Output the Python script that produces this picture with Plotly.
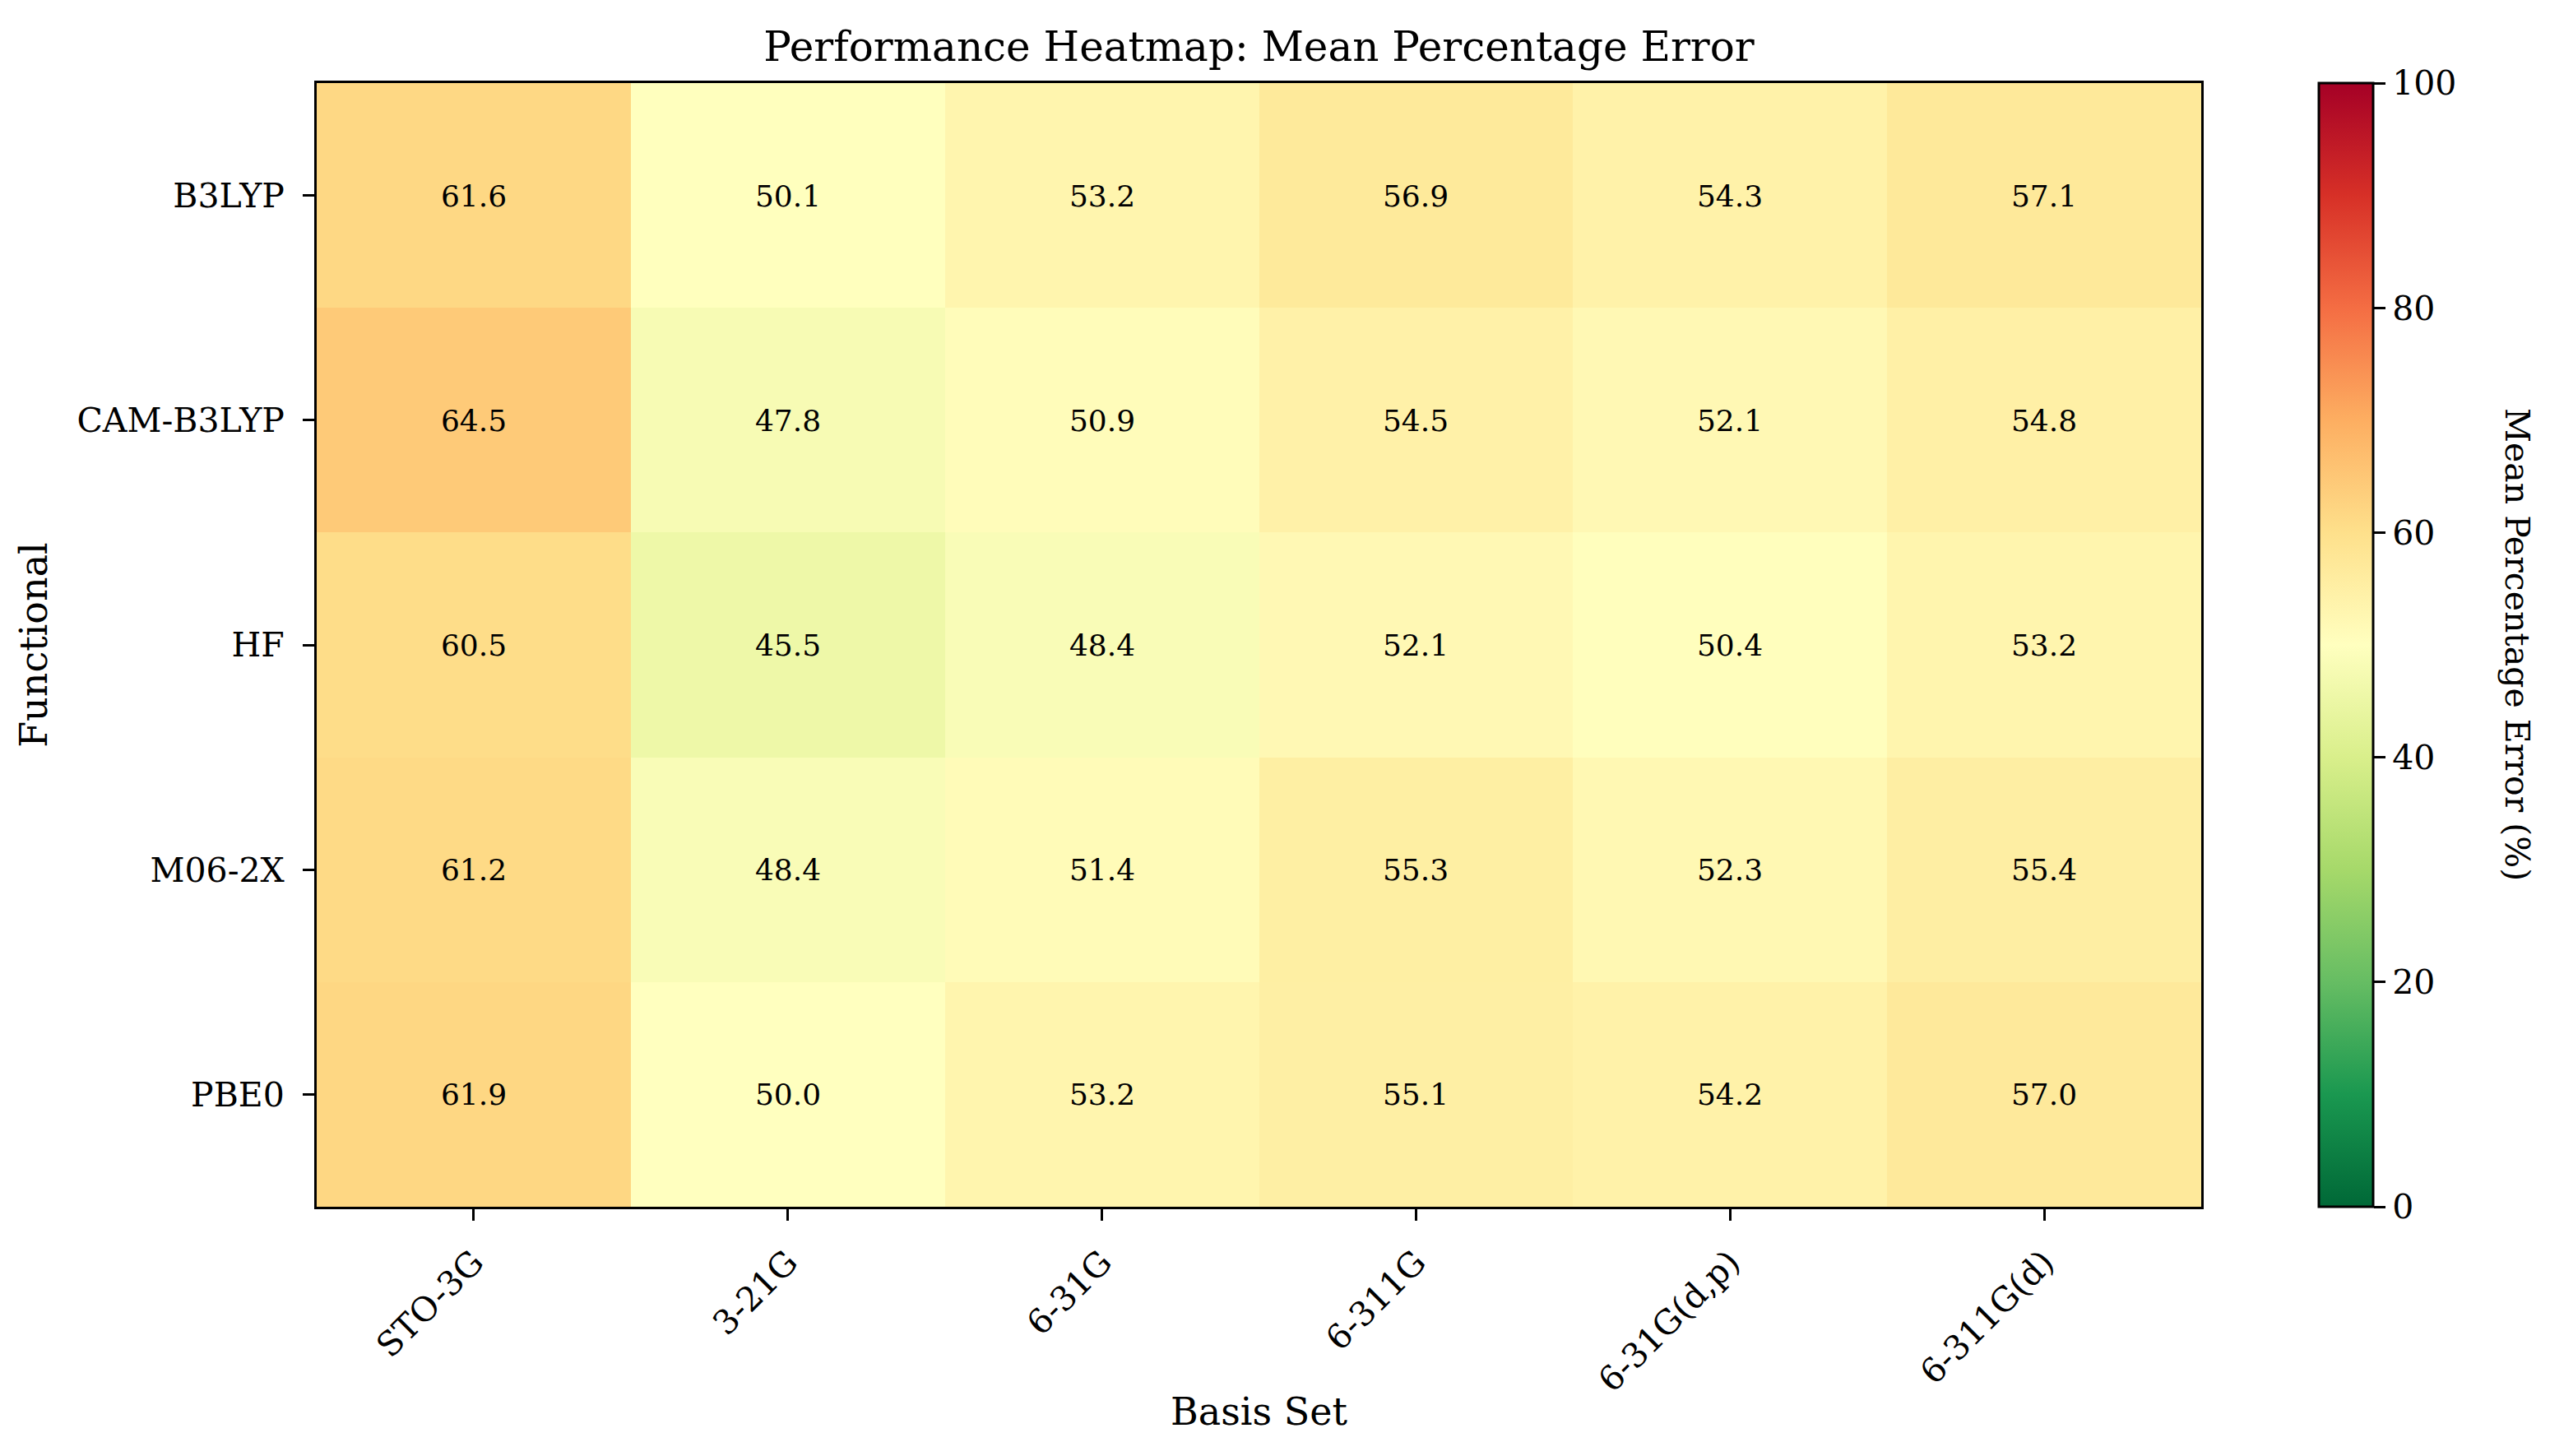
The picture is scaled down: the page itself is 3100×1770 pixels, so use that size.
import plotly.graph_objects as go

functionals = ["B3LYP", "CAM-B3LYP", "HF", "M06-2X", "PBE0"]
basis_sets = ["STO-3G", "3-21G", "6-31G", "6-311G", "6-31G(d,p)", "6-311G(d)"]

b3lyp = [61.6, 50.1, 53.2, 56.9, 54.3, 57.1]
cam_b3lyp = [64.5, 47.8, 50.9, 54.5, 52.1, 54.8]
hf = [60.5, 45.5, 48.4, 52.1, 50.4, 53.2]
m06_2x = [61.2, 48.4, 51.4, 55.3, 52.3, 55.4]
pbe0 = [61.9, 50.0, 53.2, 55.1, 54.2, 57.0]

cbar_ticks = [0, 20, 40, 60, 80, 100]

z = [b3lyp, cam_b3lyp, hf, m06_2x, pbe0]

# matplotlib RdYlGn_r
rdylgn = ["#a50026", "#d73027", "#f46d43", "#fdae61", "#fee08b", "#ffffbf",
          "#d9ef8b", "#a6d96a", "#66bd63", "#1a9850", "#006837"]
rdylgn_r = rdylgn[::-1]
colorscale = [[i / 10, c] for i, c in enumerate(rdylgn_r)]

FONT = "DejaVu Serif"

W, H = 3100, 1770
L, R, T, B = 377, 2668, 93, 1459
pw = R - L
ph = B - T

fig = go.Figure(go.Heatmap(
    z=z, x=basis_sets, y=functionals,
    colorscale=colorscale, zmin=0, zmax=100,
    texttemplate="%{z:.1f}",
    textfont=dict(family=FONT, size=36, color="black"),
    xgap=0, ygap=0,
    colorbar=dict(
        x=(2811 - L) / pw, xanchor="left", xref="paper",
        y=0.5, yanchor="middle", len=1.0, lenmode="fraction",
        thickness=66, thicknessmode="pixels",
        outlinewidth=3, outlinecolor="black",
        tickvals=cbar_ticks, ticks="outside", ticklen=14, tickwidth=3,
        tickcolor="black",
        tickfont=dict(family=FONT, size=41, color="black"),
        xpad=0, ypad=0,
    ),
))

fig.update_layout(
    width=W, height=H,
    margin=dict(l=L, r=W - R, t=T, b=H - B, pad=0),
    paper_bgcolor="white", plot_bgcolor="white",
    font=dict(family=FONT, color="black"),
    title=dict(text="Performance Heatmap: Mean Percentage Error",
               x=0.5, xref="paper", xanchor="center",
               y=1 - 48 / H, yref="container", yanchor="middle",
               font=dict(family=FONT, size=50, color="black")),
    xaxis=dict(
        title=dict(text="Basis Set", font=dict(family=FONT, size=46, color="black"), standoff=0),
        tickangle=-45, ticks="outside", ticklen=14, tickwidth=3, tickcolor="black",
        ticklabelstandoff=10,
        tickfont=dict(family=FONT, size=41, color="black"),
        showline=True, linewidth=3, linecolor="black", mirror=True,
        showgrid=False, zeroline=False,
    ),
    yaxis=dict(
        title=dict(text="Functional", font=dict(family=FONT, size=46, color="black"), standoff=22),
        autorange="reversed",
        ticks="outside", ticklen=14, tickwidth=3, tickcolor="black",
        ticklabelstandoff=14,
        tickfont=dict(family=FONT, size=41, color="black"),
        showline=True, linewidth=3, linecolor="black", mirror=True,
        showgrid=False, zeroline=False,
    ),
    annotations=[dict(
        text="Mean Percentage Error (%)", textangle=90,
        xref="paper", yref="paper",
        x=(3052 - L) / pw, y=(B - 775) / ph, xanchor="center", yanchor="middle",
        showarrow=False,
        font=dict(family=FONT, size=41, color="black"),
    )],
)

fig.write_html("out.html")
